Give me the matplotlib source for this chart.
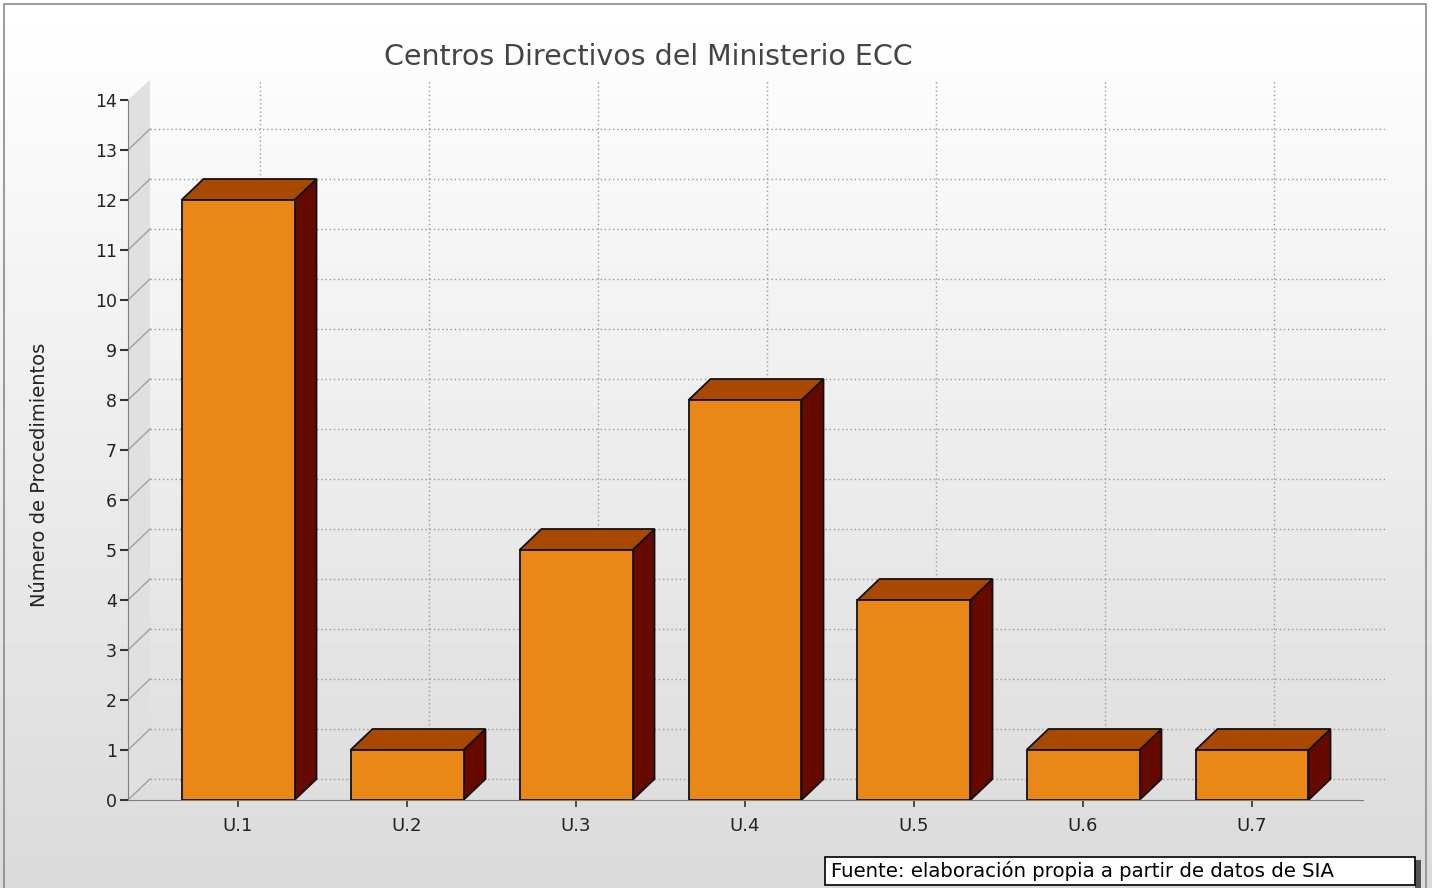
import numpy as np
import matplotlib
matplotlib.use("Agg")
import matplotlib.pyplot as plt
from matplotlib.patches import Polygon, Rectangle

# data
categorias = ["U.1", "U.2", "U.3", "U.4", "U.5", "U.6", "U.7"]
procedimientos = [12, 1, 5, 8, 4, 1, 1]
y_ticks = list(range(15))

titulo = "Centros Directivos del Ministerio ECC"
ylabel = "Número de Procedimientos"
fuente = "Fuente: elaboración propia a partir de datos de SIA"

W, H = 1432, 888
fig = plt.figure(figsize=(W / 100, H / 100), dpi=100)

# background gradient + frame
bg = fig.add_axes([0, 0, 1, 1])
grad = np.linspace(1.0, 0.855, 256).reshape(-1, 1)
bg.imshow(grad, cmap="gray", vmin=0, vmax=1, aspect="auto", extent=[0, 1, 0, 1])
bg.add_patch(Rectangle((4 / W, -0.01), (1422) / W, (H - 4) / H + 0.01, fill=False,
                       edgecolor="#8a8a8a", lw=1.2, transform=bg.transAxes))
bg.set_xlim(0, 1)
bg.set_ylim(0, 1)
bg.axis("off")

# plot area in pixels: left 128, right 1385, y=0 at 800, top 80
left_px, right_px, bot_px, top_px = 128, 1385, 800, 80
ax = fig.add_axes([left_px / W, 1 - bot_px / H, (right_px - left_px) / W, (bot_px - top_px) / H])
ax.patch.set_alpha(0)

px_per_cat = 169.0
px_per_unit = 50.0
c0 = 238.0
xmin = (left_px - c0) / px_per_cat
xmax = (right_px - c0) / px_per_cat
ymax = (bot_px - top_px) / px_per_unit
ax.set_xlim(xmin, xmax)
ax.set_ylim(0, ymax)

ddx = 22 / px_per_cat
ddy = 21 / px_per_unit
hw = 56.5 / px_per_cat

# left wall
ax.add_patch(Polygon([(xmin, 0), (xmin + ddx, ddy), (xmin + ddx, ymax), (xmin, 14)],
                     closed=True, facecolor="#e0e0e0", edgecolor="none", zorder=0.5))

grid_kw = dict(color="#9a9a9a", lw=1, linestyle=(0, (1, 2)), zorder=1)
for v in y_ticks[:-1]:
    ax.plot([xmin + ddx, xmax], [v + ddy, v + ddy], **grid_kw)
    ax.plot([xmin, xmin + ddx], [v, v + ddy], color="#a0a0a0", lw=1, zorder=1)
for i in range(len(categorias)):
    ax.plot([i + ddx, i + ddx], [ddy, ymax], **grid_kw)

# 3d bars
for i, v in enumerate(procedimientos):
    l, r = i - hw, i + hw
    front = [(l, 0), (r, 0), (r, v), (l, v)]
    top = [(l, v), (r, v), (r + ddx, v + ddy), (l + ddx, v + ddy)]
    side = [(r, 0), (r + ddx, ddy), (r + ddx, v + ddy), (r, v)]
    ax.add_patch(Polygon(side, closed=True, facecolor="#660a00", edgecolor="#111111", lw=1.3, zorder=3))
    ax.add_patch(Polygon(top, closed=True, facecolor="#a94800", edgecolor="#111111", lw=1.3, zorder=3))
    ax.add_patch(Polygon(front, closed=True, facecolor="#e98816", edgecolor="#111111", lw=1.3, zorder=4))

# axes styling
for s in ["top", "right"]:
    ax.spines[s].set_visible(False)
ax.spines["left"].set_color("#808080")
ax.spines["left"].set_bounds(0, 14)
ax.spines["bottom"].set_color("#808080")
ax.spines["bottom"].set_bounds(xmin, xmax - ddx)
ax.set_yticks(y_ticks)
ax.set_xticks(range(len(categorias)))
ax.set_xticklabels(categorias)
ax.tick_params(axis="y", length=6, width=1.5, color="#333333", labelsize=12.5, labelcolor="#222222", pad=2)
ax.tick_params(axis="x", length=5, width=1.2, color="#333333", labelsize=13, labelcolor="#222222", pad=7)

fig.text(648 / W, 1 - 57 / H, titulo, ha="center", va="center", fontsize=20.5, color="#444444")
fig.text(40 / W, 1 - 475 / H, ylabel, ha="center", va="center", rotation=90, fontsize=14, color="#222222")

# source box with shadow
fig.patches.append(Rectangle((1415 / W, 0), 6 / W, 28 / H, transform=fig.transFigure,
                             facecolor="#555555", edgecolor="none", zorder=5))
fig.patches.append(Rectangle((825 / W, 3 / H), 590 / W, 28 / H, transform=fig.transFigure,
                             facecolor="white", edgecolor="black", lw=1.2, zorder=6))
fig.text(831 / W, 1 - 871 / H, fuente, ha="left", va="center", fontsize=14.2, color="black", zorder=7)

fig.savefig("out.png", dpi=100)
